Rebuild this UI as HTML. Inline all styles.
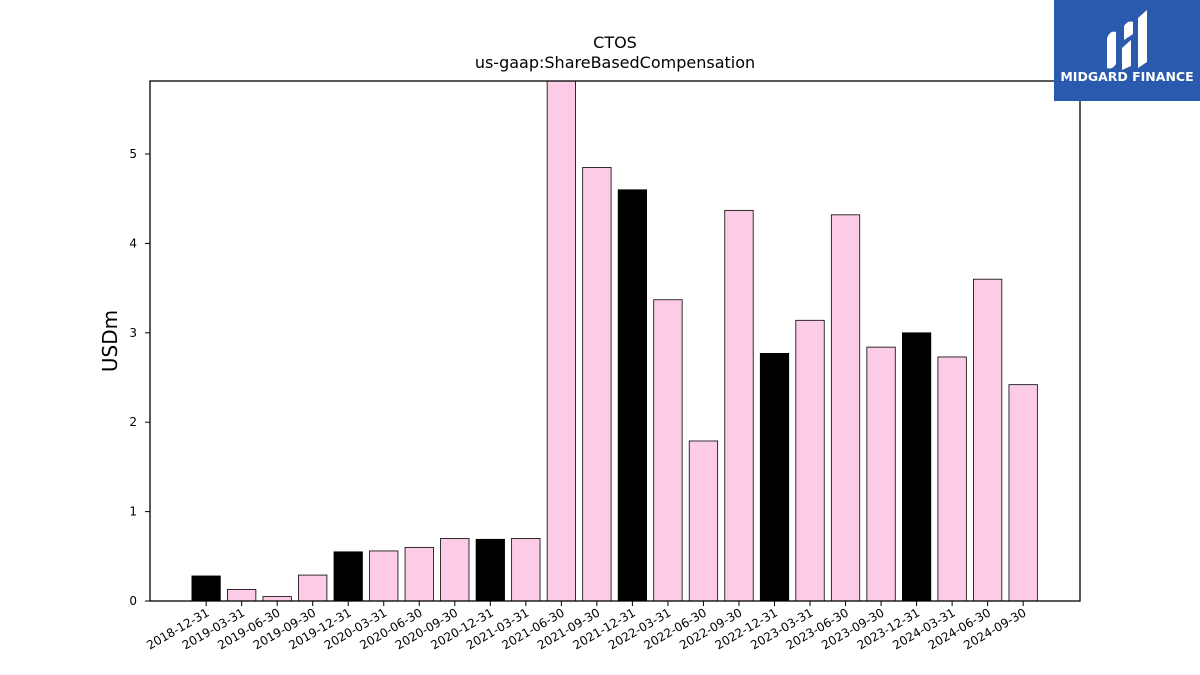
<!DOCTYPE html>
<html><head><meta charset="utf-8"><style>
body{margin:0;background:#fff;}
svg{display:block;font-family:"DejaVu Sans","Liberation Sans",sans-serif;}
</style></head><body>
<svg id="chart" width="1200" height="675">
<rect x="0" y="0" width="1200" height="675" fill="#fff"/>
<text x="615" y="48" text-anchor="middle" font-size="16">CTOS</text>
<text x="615" y="68" text-anchor="middle" font-size="16">us-gaap:ShareBasedCompensation</text>
<text transform="translate(117,341) rotate(-90)" text-anchor="middle" font-size="20">USDm</text>
<g id="plot"></g>
<rect x="150" y="81" width="930" height="520" fill="none" stroke="#000" stroke-width="1.3"/>
<g>
<rect x="1054" y="0" width="146" height="101" fill="#2a5aad"/>
<path d="M1107 68 L1107 38 Q1110 30 1116 32 L1116 64 Q1112 70 1107 68Z M1122 70 L1122 48 L1131 40 L1131 66 Z M1124 40 L1124 26 Q1128 20 1133 22 L1133 34 Z M1138 68 L1138 18 L1147 10 L1147 62 Z" fill="#fff"/>
<text x="1127" y="81" text-anchor="middle" font-size="12.5" font-weight="bold" fill="#fff">MIDGARD FINANCE</text>
</g>
</svg>
<script>
const categories=["2018-12-31","2019-03-31","2019-06-30","2019-09-30","2019-12-31","2020-03-31","2020-06-30","2020-09-30","2020-12-31","2021-03-31","2021-06-30","2021-09-30","2021-12-31","2022-03-31","2022-06-30","2022-09-30","2022-12-31","2023-03-31","2023-06-30","2023-09-30","2023-12-31","2024-03-31","2024-06-30","2024-09-30"];
const values=[0.28,0.13,0.05,0.29,0.55,0.56,0.60,0.70,0.69,0.70,6.0,4.85,4.60,3.37,1.79,4.37,2.77,3.14,4.32,2.84,3.00,2.73,3.60,2.42];
const yTicks=[0,1,2,3,4,5];
const L=150,R=1080,T=81,B=601;
const yMax=5.817, xMin=-1.58, xMax=24.6;
const y=v=>B-(v/yMax)*(B-T);
const x=i=>L+(i-xMin)/(xMax-xMin)*(R-L);
const ns="http://www.w3.org/2000/svg";
const g=document.getElementById('plot');
function mk(t,a){const e=document.createElementNS(ns,t);for(const k in a)e.setAttribute(k,a[k]);return e;}
const bw=0.8*(R-L)/(xMax-xMin);
const clip=mk('clipPath',{id:'cp'});clip.appendChild(mk('rect',{x:L,y:T,width:R-L,height:B-T}));g.appendChild(clip);
const bars=mk('g',{'clip-path':'url(#cp)'});g.appendChild(bars);
values.forEach((v,i)=>{
 const q4=categories[i].endsWith('12-31');
 const r=mk('rect',{x:x(i)-bw/2,y:y(v),width:bw,height:B-y(v),fill:q4?'#000':'#fccce6',stroke:'#000','stroke-width':0.8});
 
 
 bars.appendChild(r);
 const tk=mk('line',{x1:x(i),x2:x(i),y1:B,y2:B+5,stroke:'#000'});
 
 
 g.appendChild(tk);
 const t=mk('text',{transform:`translate(${x(i)+4},${B+14}) rotate(-30)`,'text-anchor':'end','font-size':12});
 t.textContent=categories[i];
 
 
 g.appendChild(t);
});
yTicks.forEach(v=>{
 const tk=mk('line',{x1:L-5,x2:L,y1:y(v),y2:y(v),stroke:'#000'});
 
 
 g.appendChild(tk);
 const t=mk('text',{x:L-13,y:y(v)+4,'text-anchor':'end','font-size':12});
 t.textContent=v;
 
 
 g.appendChild(t);
});
</script>
</body></html>
